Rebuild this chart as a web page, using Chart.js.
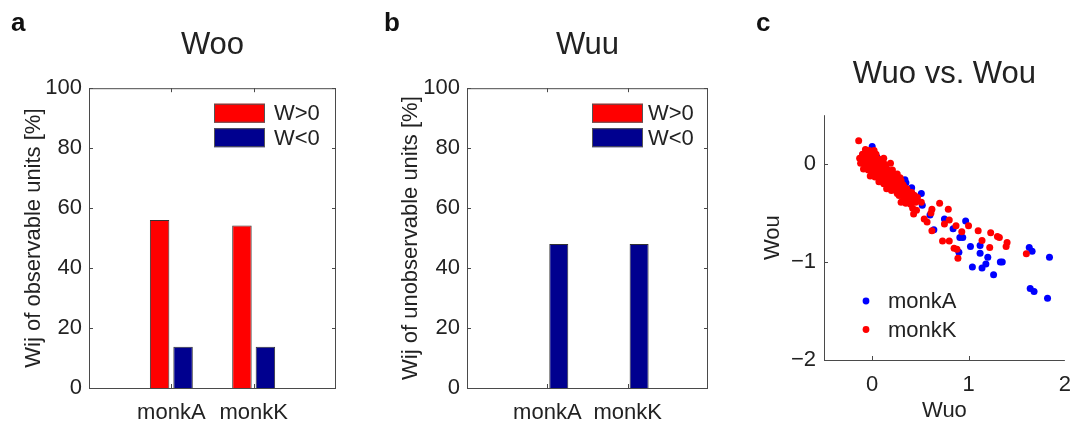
<!DOCTYPE html>
<html lang="en">
<head>
<meta charset="UTF-8">
<title>Woo / Wuu / Wuo vs. Wou</title>
<script src="https://cdn.jsdelivr.net/npm/chart.js"></script>
<style>
  body { margin: 0; background: #fff; width: 1083px; height: 425px; position: relative; overflow: hidden;
         font-family: "Liberation Sans", Arial, Helvetica, sans-serif; }
  .panel { position: absolute; top: 0; }
  .tag { position: absolute; font-weight: bold; font-size: 26px; line-height: 26px; color: #111; }
</style>
</head>
<body>
<div class="panel" style="left:0px"><canvas id="chartA" width="360" height="425"></canvas></div>
<div class="panel" style="left:360px"><canvas id="chartB" width="360" height="425"></canvas></div>
<div class="panel" style="left:720px"><canvas id="chartC" width="363" height="425"></canvas></div>
<span class="tag" style="left:11px;top:9px">a</span>
<span class="tag" style="left:384px;top:9px">b</span>
<span class="tag" style="left:756px;top:9px">c</span>

<script>
// ---- data ----
const categories = ['monkA', 'monkK'];
const wooPos = [56, 54.2];
const wooNeg = [13.8, 13.8];
const wuuPos = [0, 0];
const wuuNeg = [48, 48];
const pctTicks = [0, 20, 40, 60, 80, 100];

// Wuo (x) vs Wou (y) per unit
const monkA = [
  [0.0, 0.18], [-0.10, 0.095], [0.05, 0.07], [0.10, 0.0], [0.15, -0.05],
  [0.20, -0.10], [0.29, -0.18], [0.34, -0.16], [0.35, -0.19], [0.41, -0.24],
  [0.42, -0.31], [0.44, -0.36], [0.51, -0.30], [0.52, -0.42], [0.60, -0.52],
  [0.64, -0.67], [0.75, -0.56], [0.84, -0.66], [0.97, -0.58], [0.91, -0.75],
  [0.94, -0.75], [1.02, -0.84], [1.12, -0.83], [0.90, -0.90], [1.12, -0.91],
  [1.20, -0.95], [1.04, -1.05], [1.14, -1.06], [1.18, -1.02], [1.33, -1.00],
  [1.35, -1.00], [1.26, -1.13], [1.63, -0.85], [1.66, -0.89], [1.84, -0.95],
  [1.64, -1.27], [1.68, -1.30], [1.82, -1.37]
];
const monkK = [
  [-0.14, 0.24],
  [-0.07, 0.15], [-0.03, 0.14], [0.02, 0.14],
  [-0.10, 0.10], [-0.05, 0.11], [0.00, 0.09], [0.04, 0.10],
  [-0.13, 0.06], [-0.08, 0.06], [-0.03, 0.05], [0.02, 0.06], [0.07, 0.05], [0.12, 0.06],
  [-0.10, 0.03], [-0.05, 0.03], [0.00, 0.03], [0.05, 0.03], [0.10, 0.03],
  [-0.12, 0.01], [-0.07, 0.00], [-0.02, 0.02], [0.03, 0.00], [0.08, 0.01], [0.13, 0.00], [0.19, 0.01],
  [-0.06, -0.03], [-0.01, -0.03], [0.04, -0.03], [0.09, -0.03], [0.14, -0.03],
  [-0.09, -0.05], [-0.04, -0.06], [0.01, -0.05], [0.06, -0.07], [0.11, -0.05], [0.16, -0.06], [0.21, -0.06],
  [0.01, -0.09], [0.06, -0.10], [0.11, -0.09], [0.16, -0.10], [0.21, -0.09], [0.26, -0.10],
  [-0.02, -0.12], [0.03, -0.13], [0.08, -0.12], [0.13, -0.14], [0.18, -0.12], [0.24, -0.13], [0.29, -0.14],
  [0.10, -0.16], [0.15, -0.16], [0.20, -0.16], [0.25, -0.17], [0.30, -0.17],
  [0.07, -0.18], [0.12, -0.20], [0.17, -0.19], [0.22, -0.20], [0.27, -0.19], [0.32, -0.21],
  [0.18, -0.23], [0.23, -0.23], [0.28, -0.23], [0.33, -0.23],
  [0.15, -0.25], [0.20, -0.27], [0.25, -0.26], [0.31, -0.27], [0.36, -0.25],
  [0.26, -0.30], [0.31, -0.30], [0.36, -0.30], [0.41, -0.29],
  [0.28, -0.32], [0.33, -0.34], [0.38, -0.33], [0.44, -0.32], [0.47, -0.34],
  [0.32, -0.37], [0.37, -0.37], [0.42, -0.36],
  [0.30, -0.39], [0.35, -0.40], [0.40, -0.41], [0.45, -0.39], [0.51, -0.39],
  [0.42, -0.45], [0.46, -0.47], [0.43, -0.51],
  [0.54, -0.56], [0.57, -0.59], [0.62, -0.46], [0.61, -0.50], [0.70, -0.40],
  [0.79, -0.46], [0.80, -0.57], [0.75, -0.61], [0.62, -0.68], [0.87, -0.63],
  [0.93, -0.69], [1.00, -0.63], [0.73, -0.785], [0.80, -0.785], [0.85, -0.86],
  [0.88, -0.87], [0.89, -0.96], [1.10, -0.68], [1.14, -0.78], [1.23, -0.70],
  [1.30, -0.74], [1.32, -0.75], [1.22, -0.85], [1.40, -0.80], [1.39, -0.84],
  [1.60, -0.915]
];
const wuoTicks = [0, 1, 2];
const wouTicks = [-2, -1, 0];

// ---- shared look ----
Chart.defaults.font.family = '"Liberation Sans", Arial, Helvetica, sans-serif';
Chart.defaults.font.size = 22;
Chart.defaults.color = '#222';
const axisColor = '#4a4a4a';
const minus = v => String(v).replace('-', '\u2212');

// box lines + inward tick marks, MATLAB style
const matlabFrame = {
  id: 'matlabFrame',
  afterDatasetsDraw(chart, args, opts) {
    const { ctx, chartArea: a, scales: { x, y } } = chart;
    const t = 4;
    ctx.save();
    ctx.strokeStyle = axisColor;
    ctx.lineWidth = 1;
    ctx.beginPath();
    ctx.moveTo(a.left + 0.5, a.top);
    ctx.lineTo(a.left + 0.5, a.bottom + 0.5);
    ctx.lineTo(a.right, a.bottom + 0.5);
    if (opts.box) {
      ctx.moveTo(a.left, a.top + 0.5);
      ctx.lineTo(a.right - 0.5, a.top + 0.5);
      ctx.lineTo(a.right - 0.5, a.bottom);
    }
    y.ticks.forEach(tk => {
      const py = Math.round(y.getPixelForValue(tk.value)) + 0.5;
      ctx.moveTo(a.left, py); ctx.lineTo(a.left + t, py);
      if (opts.box) { ctx.moveTo(a.right, py); ctx.lineTo(a.right - t, py); }
    });
    x.ticks.forEach(tk => {
      if (tk.label === '') return;
      const px = Math.round(x.getPixelForValue(tk.value)) + 0.5;
      if (px < a.left + 2 || px > a.right - 2) return;
      ctx.moveTo(px, a.bottom); ctx.lineTo(px, a.bottom - t);
      if (opts.box) { ctx.moveTo(px, a.top); ctx.lineTo(px, a.top + t); }
    });
    ctx.stroke();
    ctx.restore();
  }
};

// legend inside the axes
const innerLegend = {
  id: 'innerLegend',
  afterDraw(chart, args, opts) {
    const { ctx, chartArea: a } = chart;
    ctx.save();
    ctx.font = '22px "Liberation Sans", Arial, sans-serif';
    ctx.textBaseline = 'middle';
    chart.data.datasets.forEach((ds, i) => {
      const left = opts.fromLeft != null ? a.left + opts.fromLeft : a.right - opts.fromRight;
      const cy = opts.fromBottom != null ? a.bottom - opts.fromBottom + i * opts.step : a.top + opts.fromTop + i * opts.step;
      ctx.fillStyle = ds.backgroundColor;
      if (opts.dot) {
        ctx.beginPath(); ctx.arc(left, cy, 3.4, 0, Math.PI * 2); ctx.fill();
        ctx.fillStyle = '#222';
        ctx.fillText(ds.label, left + opts.textGap, cy + 1);
      } else {
        ctx.fillRect(left, cy - opts.h / 2, opts.w, opts.h);
        ctx.strokeStyle = '#555'; ctx.lineWidth = 1;
        ctx.strokeRect(left + 0.5, cy - opts.h / 2 + 0.5, opts.w - 1, opts.h - 1);
        ctx.fillStyle = '#222';
        ctx.fillText(ds.label, left + opts.w + opts.textGap, cy + 1);
      }
    });
    ctx.restore();
  }
};

function barChart(id, title, yTitle, pos, neg, lay) {
  return new Chart(document.getElementById(id), {
    type: 'bar',
    data: {
      labels: ['', ...categories, ''],
      datasets: [
        { label: 'W>0', data: [null, ...pos, null], backgroundColor: '#ff0000' },
        { label: 'W<0', data: [null, ...neg, null], backgroundColor: '#00008f' }
      ].map(d => Object.assign(d, {
        borderColor: '#333', borderWidth: 1, categoryPercentage: 0.57, barPercentage: 0.83
      }))
    },
    options: {
      responsive: false,
      animation: false,
      layout: { padding: { left: 0, right: lay.padRight, top: 0, bottom: 0 } },
      plugins: {
        legend: { display: false },
        tooltip: { enabled: false },
        title: {
          display: true, text: title, fullSize: false, color: '#222',
          font: { size: 31, weight: 'normal' },
          padding: { top: 27, bottom: 24 }
        },
        matlabFrame: { box: true },
        innerLegend: { fromRight: lay.legRight, fromTop: 25, step: 24.5, w: 51, h: 19, textGap: lay.textGap }
      },
      scales: {
        x: {
          offset: false,
          grid: { display: false, drawTicks: false },
          border: { display: false },
          ticks: { autoSkip: false, maxRotation: 0, padding: 12 },
          afterFit: s => { s.height = 37; }
        },
        y: {
          min: 0, max: 100,
          afterBuildTicks: s => { s.ticks = pctTicks.map(v => ({ value: v })); },
          grid: { display: false, drawTicks: false },
          border: { display: false },
          ticks: { padding: 7 },
          title: { display: true, text: yTitle, padding: { top: lay.titlePad, bottom: 0 } },
          afterFit: s => { s.width = lay.yWidth; }
        }
      }
    },
    plugins: [matlabFrame, innerLegend]
  });
}

barChart('chartA', 'Woo', 'Wij of observable units [%]', wooPos, wooNeg,
  { yWidth: 89, padRight: 24, titlePad: 21, legRight: 122, textGap: 9 });
barChart('chartB', 'Wuu', 'Wij of unobservable units [%]', wuuPos, wuuNeg,
  { yWidth: 107, padRight: 7, titlePad: 38, legRight: 116, textGap: 5 });

new Chart(document.getElementById('chartC'), {
  type: 'scatter',
  data: {
    datasets: [
      { label: 'monkA', data: monkA.map(([x, y]) => ({ x, y })), backgroundColor: '#0000ff', order: 1 },
      { label: 'monkK', data: monkK.map(([x, y]) => ({ x, y })), backgroundColor: '#ff0000', order: 0 }
    ].map(d => Object.assign(d, { pointRadius: 3.5, pointBorderWidth: 0, borderColor: d.backgroundColor }))
  },
  options: {
    responsive: false,
    animation: false,
    layout: { padding: { left: 0, right: 12, top: 0, bottom: 0 } },
    plugins: {
      legend: { display: false },
      tooltip: { enabled: false },
      title: {
        display: true, text: 'Wuo vs. Wou', fullSize: false, color: '#222',
        font: { size: 31, weight: 'normal' },
        padding: { top: 56, bottom: 22 }
      },
      matlabFrame: { box: false },
      innerLegend: { dot: true, fromLeft: 42, fromBottom: 59, step: 28.5, textGap: 22 }
    },
    scales: {
      x: {
        type: 'linear', min: -0.5, max: 2,
        afterBuildTicks: s => { s.ticks = wuoTicks.map(v => ({ value: v })); },
        grid: { display: false, drawTicks: false },
        border: { display: false },
        ticks: { padding: 12, callback: minus },
        title: { display: true, text: 'Wuo', padding: { top: 0, bottom: 1 } },
        afterFit: s => { s.height = 65; }
      },
      y: {
        min: -2, max: 0.5,
        afterBuildTicks: s => { s.ticks = wouTicks.map(v => ({ value: v })); },
        grid: { display: false, drawTicks: false },
        border: { display: false },
        ticks: { padding: 8, callback: minus },
        title: { display: true, text: 'Wou', padding: { top: 40, bottom: 0 } },
        afterFit: s => { s.width = 104; }
      }
    }
  },
  plugins: [matlabFrame, innerLegend]
});
</script>
</body>
</html>
